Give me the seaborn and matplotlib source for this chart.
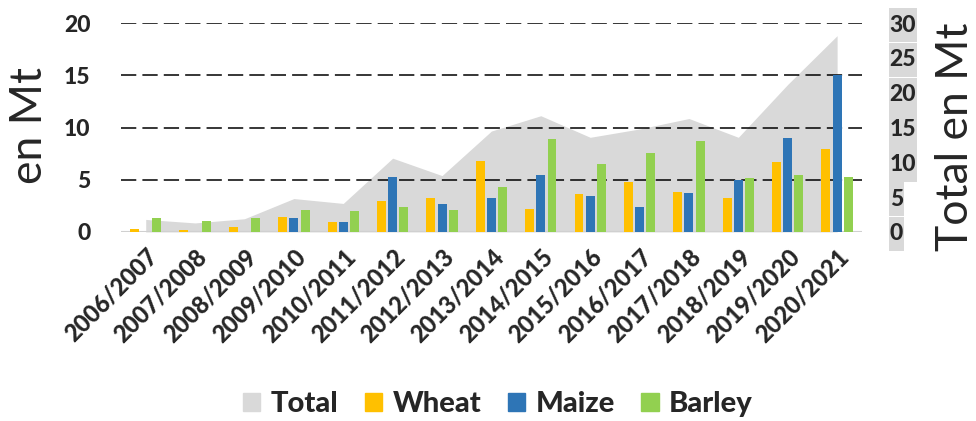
import pandas as pd
import seaborn as sns
import matplotlib.pyplot as plt
from matplotlib.patches import Patch, Rectangle

seasons = ["2006/2007", "2007/2008", "2008/2009", "2009/2010", "2010/2011",
           "2011/2012", "2012/2013", "2013/2014", "2014/2015", "2015/2016",
           "2016/2017", "2017/2018", "2018/2019", "2019/2020", "2020/2021"]
wheat = [0.3, 0.15, 0.5, 1.4, 1.0, 3.0, 3.3, 6.8, 2.2, 3.6, 4.75, 3.85, 3.3, 6.7, 7.9]
maize = [0.0, 0.0, 0.0, 1.3, 1.0, 5.3, 2.7, 3.3, 5.5, 3.4, 2.35, 3.7, 5.0, 9.0, 15.0]
barley = [1.3, 1.05, 1.3, 2.1, 2.0, 2.35, 2.1, 4.3, 8.9, 6.5, 7.6, 8.7, 5.2, 5.5, 5.3]
total = [1.8, 1.3, 1.9, 4.8, 4.1, 10.6, 8.1, 14.5, 16.7, 13.6, 14.8, 16.3, 13.6, 21.2, 28.2]

colors = {"Wheat": "#FFC000", "Maize": "#2E75B6", "Barley": "#92D050"}
total_color = "#D9D9D9"

df = pd.DataFrame({"season": seasons, "Wheat": wheat, "Maize": maize, "Barley": barley})
long_df = df.melt(id_vars="season", var_name="crop", value_name="value")

sns.set_style("white")
plt.rcParams["font.family"] = ["Lato", "DejaVu Sans"]

fig = plt.figure(figsize=(9.76, 4.21), dpi=100)
ax = fig.add_axes([0.124, 0.449, 0.759, 0.496])
ax2 = ax.twinx()

# total area sits behind the bars on the secondary axis
ax2.fill_between(range(len(seasons)), total, color=total_color, lw=0, zorder=1)
ax2.set_ylim(0, 30)
ax2.set_yticks(range(0, 31, 5))
ax2.tick_params(axis="y", length=0, pad=20, labelsize=16.5)
for lbl in ax2.get_yticklabels():
    lbl.set_fontweight("black")
for s in ax2.spines.values():
    s.set_visible(False)

ax.set_zorder(ax2.get_zorder() + 1)
ax.patch.set_visible(False)

sns.barplot(data=long_df, x="season", y="value", hue="crop", palette=colors,
            width=0.68, gap=0.2, saturation=1, legend=False, ax=ax, zorder=3,
            linewidth=0)
ax.set_ylim(0, 20)
ax.set_xlim(-0.5, len(seasons) - 0.5)
ax.set_yticks(range(0, 21, 5))
for y in range(5, 21, 5):
    ax.axhline(y, color="black", lw=1.1, dashes=(10, 4), zorder=2)
ax.axhline(0, color="#D0D0D0", lw=1.5, zorder=2)
for s in ax.spines.values():
    s.set_visible(False)
ax.tick_params(axis="y", length=0, pad=22, labelsize=16.5)
ax.tick_params(axis="x", length=0, pad=9, labelsize=17)
ax.set_xticks(range(len(seasons)))
ax.set_xticklabels(seasons, rotation=45, ha="right", rotation_mode="anchor", fontweight="black")
for lbl in ax.get_yticklabels():
    lbl.set_fontweight("black")
ax.set_xlabel("")
ax.set_ylabel("")

fig.text(30 / 976, 1 - 125.5 / 421, "en Mt", rotation=90, ha="center", va="center", fontsize=32)
fig.text(956 / 976, 1 - 136.5 / 421, "Total en Mt", rotation=90, ha="center", va="center", fontsize=32)

handles = [Patch(color=total_color, label="Total")] + [Patch(color=c, label=k) for k, c in colors.items()]
fig.legend(handles=handles, loc="center", bbox_to_anchor=(0.51, 0.04), ncol=4, frameon=False,
           prop={"weight": "black", "size": 21}, handlelength=0.6, handleheight=0.6,
           handletextpad=0.36, columnspacing=0.9)

# grey box behind the secondary tick labels, as in the source chart
fig.canvas.draw()
step = 207 / 6
for lbl in ax2.get_yticklabels():
    bb = lbl.get_window_extent()
    cy = (bb.y0 + bb.y1) / 2
    rect = Rectangle(((bb.x0 - 1) / 976, (cy - step / 2) / 421), (bb.width + 2) / 976, step / 421,
                     transform=fig.transFigure, color=total_color, lw=0, zorder=0)
    fig.add_artist(rect)

fig.savefig("out.png", dpi=100)
